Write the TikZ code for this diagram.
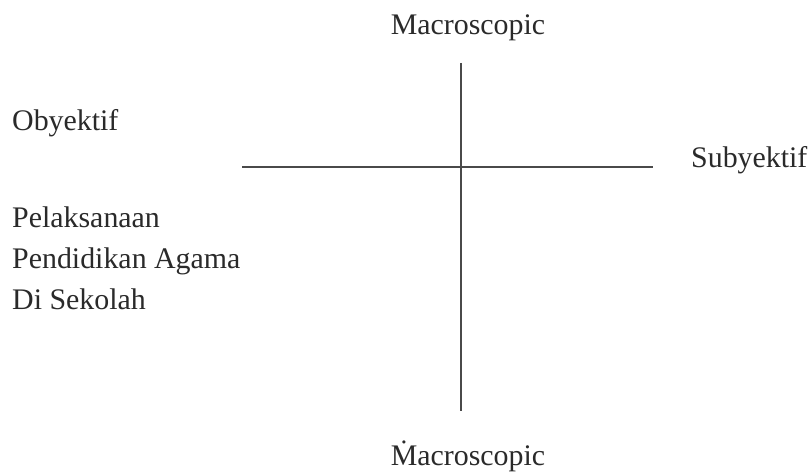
\documentclass[tikz,border=0pt]{standalone}
\usepackage{fontspec}
\setmainfont{Liberation Serif}
\usetikzlibrary{positioning}
\definecolor{AxisGray}{HTML}{4A4A4A}
\definecolor{TextGray}{HTML}{2A2A2A}

\tikzset{
  label text/.style={text=TextGray,inner sep=0pt,font=\fontsize{30}{41}\selectfont},
  axis line/.style={AxisGray,line width=1.6bp}
}

\begin{document}
\begin{tikzpicture}[x=1bp,y=-1bp,line cap=butt]

% Frame of the page (pixel coordinates, y downward)
\useasboundingbox (0,0) rectangle (810,472);

% Axis end points
\coordinate (VTop) at (461,63);
\coordinate (VBot) at (461,411);
\coordinate (HLeft) at (242,167);
\coordinate (HRight) at (653,167);

% Axes
\draw[axis line] (VTop) -- (VBot);
\draw[axis line] (HLeft) -- (HRight);

% ---- LABELS ----
\node[label text,anchor=base] (macroTop) at (468,35) {Macroscopic};
\node[label text,anchor=base] (macroBot) at (468,465) {\.{M}acroscopic};
\node[label text,anchor=base west] (obyektif) at (12,131) {Obyektif};
\node[label text,anchor=base west] (subyektif) at (691,168) {Subyektif};

% Left block
\node[label text,anchor=base west] (pelaksanaan) at (12,228) {Pelaksanaan};
\node[label text,anchor=base west] (pendidikan) at (12,269) {Pendidikan Agama};
\node[label text,anchor=base west] (sekolah) at (12,310) {Di Sekolah};

\end{tikzpicture}
\end{document}
